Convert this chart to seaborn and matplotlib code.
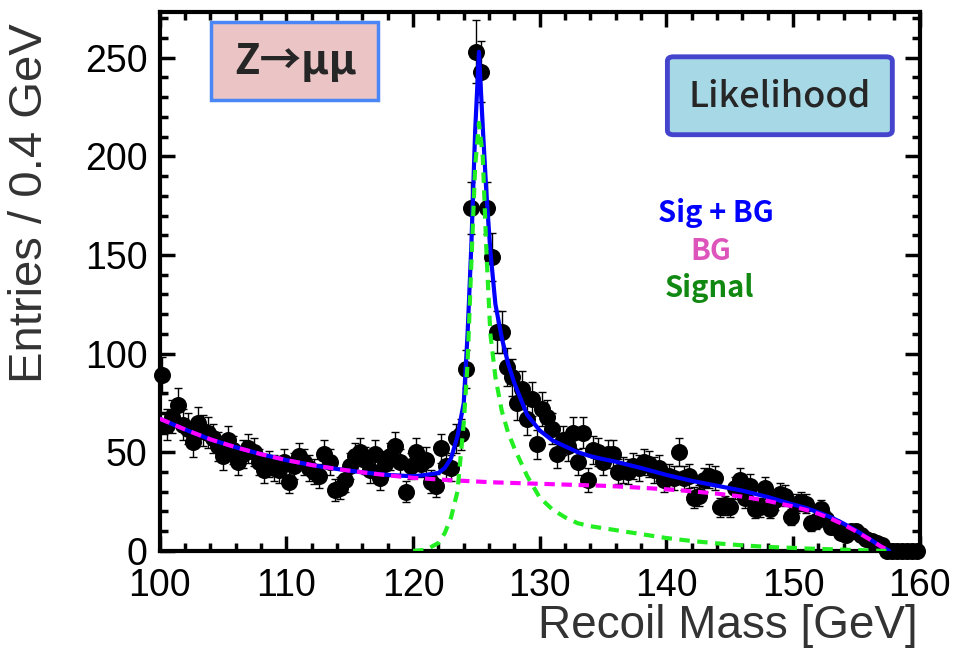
import numpy as np
import pandas as pd
import seaborn as sns
import matplotlib.pyplot as plt
from matplotlib.patches import Rectangle, FancyBboxPatch
from matplotlib.ticker import MultipleLocator

# recoil mass histogram, 0.4 GeV bins from 100 to 160
bin_centers = np.arange(150) * 0.4 + 100.2
entries = [
    89, 64, 68, 74, 64, 62, 55, 65, 61, 60,
    57, 53, 48, 56, 51, 45, 49, 52, 50, 45,
    41, 44, 42, 41, 45, 35, 43, 48, 45, 42,
    40, 38, 49, 45, 31, 32, 36, 43, 48, 50,
    46, 41, 49, 37, 44, 48, 53, 45, 30, 43,
    50, 44, 46, 35, 33, 52, 43, 42, 57, 59,
    92, 174, 253, 243, 174, 149, 111, 111, 93, 88,
    75, 82, 67, 77, 54, 72, 68, 62, 49, 56,
    53, 60, 45, 60, 36, 51, 50, 45, 49, 49,
    40, 41, 40, 43, 42, 45, 44, 41, 42, 36,
    38, 37, 50, 37, 38, 27, 28, 36, 38, 37,
    22, 23, 22, 32, 36, 27, 33, 21, 22, 32,
    21, 26, 29, 28, 17, 24, 25, 24, 14, 15,
    21, 16, 12, 12, 9, 8, 10, 10, 8, 6,
    5, 4, 3, 0, 0, 0, 0, 0, 0, 0,
]

# fit curves
fit_mass = [100, 102, 104, 106, 108, 110, 112, 114, 116, 118,
            120, 121, 122, 122.5, 123, 123.5, 124, 124.3, 124.6, 124.9,
            125.2, 125.5, 125.8, 126.1, 126.5, 127, 127.5, 128, 129, 130,
            131, 132, 133, 134, 135, 136, 138, 140, 142, 144,
            146, 148, 150, 151, 152, 153, 154, 155, 156, 157, 157.6]
fit_total = [67, 61.5, 56.5, 52.5, 49, 46, 43.5, 41.5, 39.8, 38.5,
             37.8, 38.5, 39.5, 42, 47, 58, 75, 110, 155, 213,
             253, 215, 180, 152, 125, 108, 95, 85, 69, 61,
             56, 53, 50, 48, 46.5, 45.2, 42, 38.5, 35.5, 33,
             30.5, 27.3, 23.5, 21.8, 19.5, 17, 13.8, 10.2, 6.2, 2, 0]
fit_bg = [67, 61.5, 56.5, 52.5, 49, 46, 43.5, 41.5, 39.8, 38.3,
          37, 36.6, 36.2, 36, 35.8, 35.6, 35.5, 35.4, 35.3, 35.2,
          35.1, 35, 34.9, 34.8, 34.7, 34.6, 34.5, 34.4, 34.2, 34,
          33.8, 33.6, 33.4, 33.2, 33, 32.7, 32, 31.2, 30.2, 29,
          27.5, 25.3, 22.5, 20.8, 18.8, 16.3, 13.3, 9.8, 6, 2, 0]
fit_sig = [None, None, None, None, None, None, None, None, None, None,
           0, 0.5, 4, 9, 17, 30, 65, 95, 146, 195,
           217, 200, 150, 110, 88, 71, 60, 52, 38, 27,
           21, 17, 14, 12.5, 11.5, 10.5, 8.5, 6.5, 5, 3.8,
           2.8, 2, 1.5, 1.2, 1, 0.8, 0.6, 0.4, 0.2, 0, 0]

df = pd.DataFrame({"mass": bin_centers, "entries": entries})
fits = pd.DataFrame({"mass": fit_mass, "total": fit_total, "bg": fit_bg,
                     "sig": pd.to_numeric(pd.Series(fit_sig), errors='coerce')})

sns.set_theme(style="ticks")
plt.rcParams['font.family'] = ['Liberation Sans', 'DejaVu Sans']
cjk = ['Noto Sans CJK JP', 'DejaVu Sans']

fig = plt.figure(figsize=(9.57, 6.55), dpi=100)
ax = fig.add_axes([0.167, 0.159, 0.794, 0.823])

ax.errorbar(df["mass"], df["entries"], yerr=np.sqrt(df["entries"]), fmt='none',
            ecolor='black', elinewidth=1, capsize=3, capthick=1, zorder=2)
sns.scatterplot(data=df, x="mass", y="entries", ax=ax, color='black', s=150,
                edgecolor='black', linewidth=0, zorder=3)
ax.collections[-1].set_clip_on(False)

sns.lineplot(data=fits, x="mass", y="total", ax=ax, color='#0000ff', lw=3, zorder=4, sort=False)
sns.lineplot(data=fits, x="mass", y="bg", ax=ax, color='#ff00ff', lw=3, zorder=5, sort=False)
ax.lines[-1].set_dashes([2.5, 1.6])
sig = fits.dropna()
sns.lineplot(data=sig, x="mass", y="sig", ax=ax, color='#22ee22', lw=3, zorder=5, sort=False)
ax.lines[-1].set_dashes([2.5, 1.8])

ax.set_xlim(100, 160)
ax.set_ylim(0, 273.3)
ax.xaxis.set_major_locator(MultipleLocator(10))
ax.xaxis.set_minor_locator(MultipleLocator(2))
ax.yaxis.set_major_locator(MultipleLocator(50))
ax.yaxis.set_minor_locator(MultipleLocator(10))
ax.tick_params(which='both', direction='in', top=True, right=True, width=2.5, colors='black')
ax.tick_params(which='major', length=11, labelsize=27)
ax.tick_params(axis='x', which='major', pad=12)
ax.tick_params(axis='y', which='major', pad=9)
ax.tick_params(which='minor', length=6)
for s in ax.spines.values():
    s.set_linewidth(3)
    s.set_color('black')

ax.set_xlabel('Recoil Mass [GeV]', fontsize=33, color='#333333', loc='right')
ax.xaxis.set_label_coords(0.997, -0.098)
ax.set_ylabel('Entries / 0.4 GeV', fontsize=34, color='#333333')
ax.yaxis.set_label_coords(-0.142, 0.645)

# boxes
ax.add_patch(Rectangle((0.068, 0.837), 0.219, 0.144, transform=ax.transAxes,
                       facecolor='#ebc5c5', edgecolor='#4a86f5', lw=2.5, zorder=6))
ax.text(0.178, 0.907, 'Z→μμ', transform=ax.transAxes, ha='center', va='center',
        fontsize=30, fontweight='bold', family=cjk, zorder=7)
ax.add_patch(FancyBboxPatch((0.668, 0.772), 0.296, 0.1445, transform=ax.transAxes,
                            boxstyle='round,pad=0,rounding_size=0.008',
                            facecolor='#a6d8e6', edgecolor='#4444cc', lw=3.5, zorder=6))
ax.text(0.816, 0.842, 'Likelihood', transform=ax.transAxes, ha='center', va='center',
        fontsize=26, fontweight='medium', family=cjk, zorder=7)

# colour-coded legend
ax.text(0.7316, 0.627, 'Sig + BG', transform=ax.transAxes, ha='center', va='center',
        fontsize=21, fontweight='bold', color='#0000ff', family=cjk)
ax.text(0.725, 0.5566, 'BG', transform=ax.transAxes, ha='center', va='center',
        fontsize=21, fontweight='bold', color='#dd55bb', family=cjk)
ax.text(0.7237, 0.488, 'Signal', transform=ax.transAxes, ha='center', va='center',
        fontsize=21, fontweight='bold', color='#118811', family=cjk)

fig.savefig('out.png', dpi=100)
